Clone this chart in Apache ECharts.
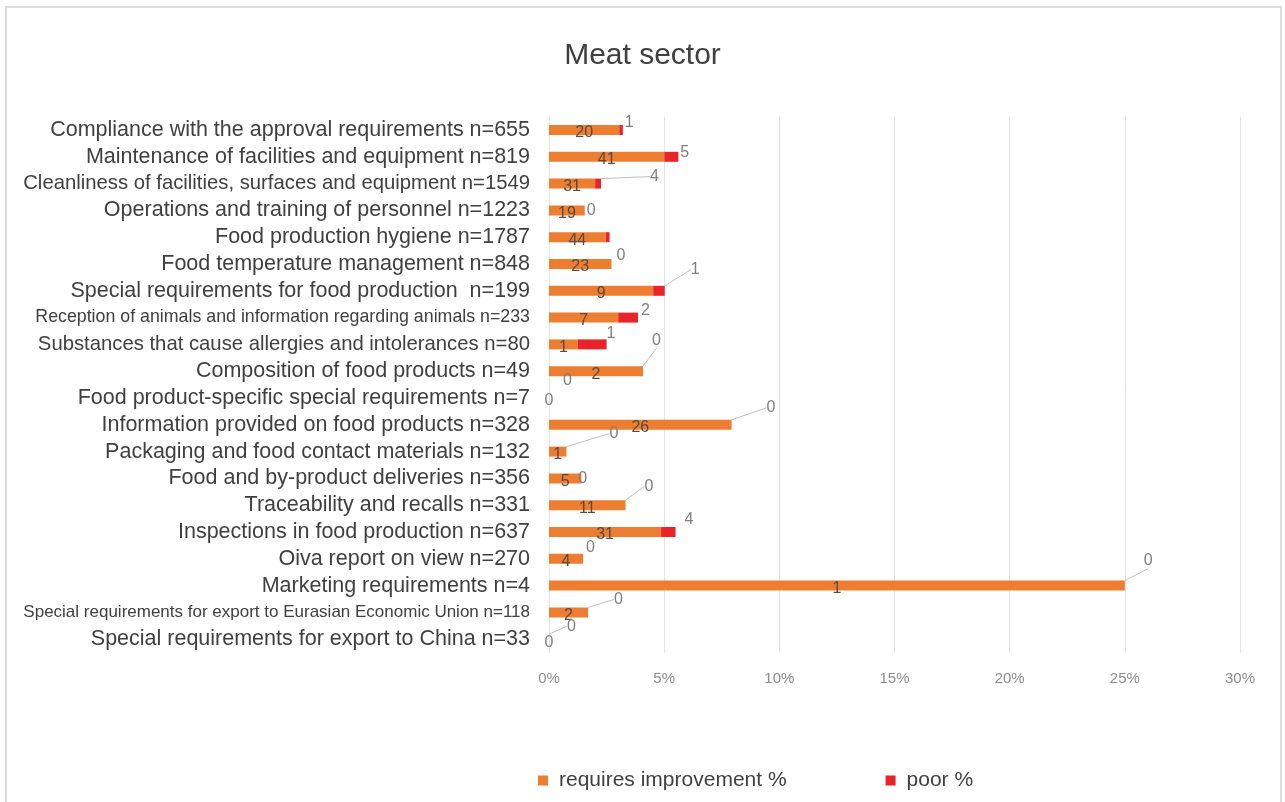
<!DOCTYPE html>
<html>
<head>
<meta charset="utf-8">
<title>Meat sector</title>
<script src="https://cdn.jsdelivr.net/npm/echarts@6/dist/echarts.min.js"></script>
<style>
  html, body { margin: 0; padding: 0; background: #ffffff; }
  #chart { width: 1285px; height: 802px; }
</style>
</head>
<body>
<div id="chart"></div>
<script>
// Inspection topics, top to bottom
const categories = [
  'Compliance with the approval requirements n=655',
  'Maintenance of facilities and equipment n=819',
  'Cleanliness of facilities, surfaces and equipment n=1549',
  'Operations and training of personnel n=1223',
  'Food production hygiene n=1787',
  'Food temperature management n=848',
  'Special requirements for food production  n=199',
  'Reception of animals and information regarding animals n=233',
  'Substances that cause allergies and intolerances n=80',
  'Composition of food products n=49',
  'Food product-specific special requirements n=7',
  'Information provided on food products n=328',
  'Packaging and food contact materials n=132',
  'Food and by-product deliveries n=356',
  'Traceability and recalls n=331',
  'Inspections in food production n=637',
  'Oiva report on view n=270',
  'Marketing requirements n=4',
  'Special requirements for export to Eurasian Economic Union n=118',
  'Special requirements for export to China n=33'
];

// Number of inspections per topic (the n in each label)
const inspections = [655, 819, 1549, 1223, 1787, 848, 199, 233, 80, 49, 7, 328, 132, 356, 331, 637, 270, 4, 118, 33];

// Inspections graded "requires improvement"
const requiresImprovement = [20, 41, 31, 19, 44, 23, 9, 7, 1, 2, 0, 26, 1, 5, 11, 31, 4, 1, 2, 0];

// Inspections graded "poor"
const poor = [1, 5, 4, 0, 3, 0, 1, 2, 1, 0, 0, 0, 0, 0, 0, 4, 0, 0, 0, 0];

// Value axis ticks (percent)
const axisTicks = [0, 5, 10, 15, 20, 25, 30];

// ---- presentation settings ----
const ORANGE = '#ED7D31';
const RED = '#E8232A';
const TEXT = '#404040';
const LABEL_GREY = '#7f7f7f';
const GRID_GREY = '#e3e3e3';
const FONT = 'Liberation Sans, Arial, sans-serif';

// Longer topic names are set in a smaller type
const labelStyleFor = {
  'Cleanliness of facilities, surfaces and equipment n=1549': 'md',
  'Substances that cause allergies and intolerances n=80': 'md',
  'Reception of animals and information regarding animals n=233': 'sm',
  'Special requirements for export to Eurasian Economic Union n=118': 'xs'
};

// Hand-placed "poor" count labels: [dx, dy, leader line]
const poorLabelPlacement = [
  [-3, -7, false], [-3, -4, false], [44, -7, true], [-3, 0, false], null,
  [0, -8, false], [21, -21, true], [-2, -7, false], [-5, -11, false], [4, -31, true],
  [9, -17, false], [30, -17, true], [38, -18, true], [-8, 0, false], [14, -19, true],
  [4, -12, false], [-2, -11, false], [14, -25, true], [21, -13, true], [13, -13, true]
];

const pct = (count, i) => count / inspections[i] * 100;

const requiresData = requiresImprovement.map((c, i) => {
  const item = { value: pct(c, i), count: c };
  if (c === 0) item.label = { color: LABEL_GREY };
  return item;
});
const poorData = poor.map((c, i) => {
  const place = poorLabelPlacement[i];
  const item = { value: pct(c, i), count: c };
  if (!place) {
    item.label = { show: false };
  } else if (place[2]) {
    item.labelLine = { show: true };
  }
  return item;
});

const chart = echarts.init(document.getElementById('chart'), null, { renderer: 'canvas' });

chart.setOption({
  backgroundColor: '#ffffff',
  animation: false,
  title: {
    text: 'Meat sector',
    left: 'center',
    top: 36,
    textStyle: { fontFamily: FONT, fontSize: 30, fontWeight: 'normal', color: TEXT }
  },
  graphic: [{
    type: 'rect',
    shape: { x: 6, y: 7, width: 1275, height: 820 },
    style: { fill: 'none', stroke: '#dcdcdc', lineWidth: 2 },
    silent: true
  }],
  legend: {
    left: 533,
    top: 765,
    icon: 'rect',
    itemWidth: 10,
    itemHeight: 10,
    itemGap: 99,
    textStyle: { fontFamily: FONT, fontSize: 21, color: TEXT, padding: [0, 0, 0, 6] },
    data: ['requires improvement %', 'poor %']
  },
  grid: {
    left: 549,
    right: 45,
    top: 116.6,
    bottom: 149.4,
    containLabel: false,
    outerBoundsMode: 'none'
  },
  xAxis: {
    type: 'value',
    min: axisTicks[0],
    max: axisTicks[axisTicks.length - 1],
    interval: axisTicks[1] - axisTicks[0],
    axisLine: { show: false },
    axisTick: { show: false },
    splitLine: { show: true, lineStyle: { color: GRID_GREY, width: 1 } },
    axisLabel: {
      margin: 19,
      formatter: '{value}%',
      fontFamily: FONT,
      fontSize: 15,
      color: '#8c8c8c'
    }
  },
  yAxis: {
    type: 'category',
    inverse: true,
    data: categories,
    axisLine: { show: true, lineStyle: { color: GRID_GREY } },
    axisTick: { show: false },
    axisLabel: {
      interval: 0,
      margin: 19,
      color: TEXT,
      fontFamily: FONT,
      fontSize: 21.5,
      formatter: (value) => {
        const style = labelStyleFor[value];
        return style ? '{' + style + '|' + value + '}' : value;
      },
      rich: {
        md: { fontSize: 20.3, color: TEXT, fontFamily: FONT },
        sm: { fontSize: 17.8, color: TEXT, fontFamily: FONT },
        xs: { fontSize: 17, color: TEXT, fontFamily: FONT }
      }
    }
  },
  series: [
    {
      name: 'requires improvement %',
      type: 'bar',
      stack: 'total',
      barWidth: 10,
      itemStyle: { color: ORANGE },
      label: {
        show: true,
        position: 'inside',
        offset: [0, 3],
        formatter: (p) => String(p.data.count),
        fontFamily: FONT,
        fontSize: 16,
        color: '#594a3f'
      },
      data: requiresData
    },
    {
      name: 'poor %',
      type: 'bar',
      stack: 'total',
      barWidth: 10,
      itemStyle: { color: RED },
      label: {
        show: true,
        position: 'right',
        distance: 5,
        formatter: (p) => String(p.data.count),
        fontFamily: FONT,
        fontSize: 16,
        color: LABEL_GREY
      },
      labelLine: {
        show: false,
        lineStyle: { color: '#bfbfbf', width: 1 }
      },
      labelLayout: (params) => {
        const place = poorLabelPlacement[params.dataIndex];
        if (!place) return {};
        return { dx: place[0], dy: place[1] };
      },
      data: poorData
    }
  ]
});
</script>
</body>
</html>
